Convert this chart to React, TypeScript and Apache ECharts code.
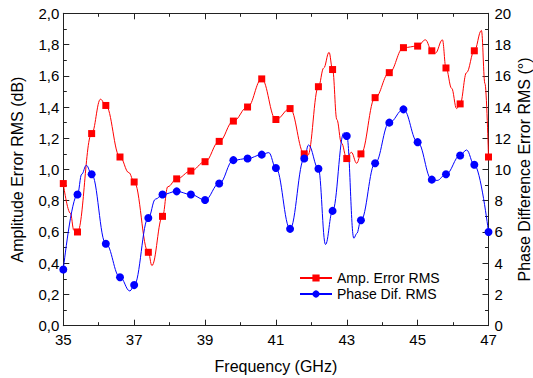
import React, { useEffect, useRef } from "react";
import * as echarts from "echarts";

// Marker frequencies (GHz)
const freqs = [35.0, 35.4, 35.8, 36.2, 36.6, 37.0, 37.4, 37.8, 38.2, 38.6, 39.0, 39.4, 39.8, 40.2, 40.6, 41.0, 41.4, 41.8, 42.2, 42.6, 43.0, 43.4, 43.8, 44.2, 44.6, 45.0, 45.4, 45.8, 46.2, 46.6, 47.0];

// Amplitude error RMS (dB) at marker frequencies
const ampErrorRms = [0.91, 0.60, 1.23, 1.41, 1.08, 0.92, 0.47, 0.70, 0.94, 0.99, 1.05, 1.18, 1.31, 1.40, 1.58, 1.32, 1.39, 1.10, 1.53, 1.64, 1.07, 1.10, 1.46, 1.62, 1.78, 1.79, 1.76, 1.65, 1.42, 1.76, 1.08];

// Phase difference RMS (deg) at marker frequencies
const phaseDifRms = [3.6, 8.4, 9.7, 5.25, 3.1, 2.6, 6.9, 8.4, 8.6, 8.4, 8.05, 9.1, 10.6, 10.7, 10.95, 10.1, 6.2, 10.7, 10.05, 7.35, 12.15, 6.75, 10.4, 13.0, 13.85, 11.75, 9.35, 9.7, 10.9, 10.3, 6.0];

// Extra curve points between markers, no markers drawn
const ampCurveFreqs = [35.2, 35.3, 36.05, 36.85, 37.5, 37.95, 41.9, 42.35, 42.5, 42.72, 42.85, 43.13, 43.28, 45.22, 45.5, 45.7, 45.96, 46.1, 46.38, 46.8, 46.9];
const ampCurveValues = [0.72, 0.61, 1.45, 0.98, 0.385, 0.89, 1.09, 1.65, 1.75, 1.32, 1.17, 1.11, 1.04, 1.83, 1.745, 1.83, 1.52, 1.39, 1.62, 1.89, 1.55];

const phaseCurveFreqs = [35.52, 35.65, 36.88, 37.6, 40.8, 41.92, 42.4, 42.92, 43.2, 43.28, 45.55, 46.38];
const phaseCurveValues = [9.7, 10.27, 2.22, 8.1, 11.08, 11.57, 5.2, 12.36, 5.6, 5.9, 9.3, 11.25];

const xTicks = { min: 35, max: 47, interval: 2 };
const leftTicks = { min: 0, max: 2, interval: 0.2 };
const rightTicks = { min: 0, max: 20, interval: 2 };

function buildData(mf: number[], mv: number[], cf: number[], cv: number[]) {
  const pts: any[] = [];
  mf.forEach((f, i) => pts.push({ value: [f, mv[i]] }));
  cf.forEach((f, i) => pts.push({ value: [f, cv[i]], symbol: "none" }));
  pts.sort((a, b) => a.value[0] - b.value[0]);
  return pts;
}

const FONT = "'Liberation Sans', Arial, sans-serif";
const AXIS_COLOR = "#222";

export default function App() {
  const ref = useRef<HTMLDivElement>(null);
  useEffect(() => {
    if (!ref.current) return;
    const chart = echarts.init(ref.current, undefined, { renderer: "svg" });
    const axisCommon = {
      axisLine: { show: true, onZero: false, lineStyle: { color: AXIS_COLOR, width: 1 } },
      axisTick: { show: true, inside: true, length: 6, lineStyle: { color: AXIS_COLOR } },
      minorTick: { show: true, splitNumber: 2, length: 3.5, lineStyle: { color: AXIS_COLOR } },
      splitLine: { show: false },
      minorSplitLine: { show: false },
    };
    chart.setOption({
      animation: false,
      backgroundColor: "#fff",
      textStyle: { fontFamily: FONT },
      grid: { left: 63.3, right: 44.5, top: 13.3, bottom: 52.3, containLabel: false, outerBoundsMode: "none" },
      legend: {
        orient: "vertical",
        left: 294,
        top: 266,
        itemWidth: 32,
        itemHeight: 9,
        itemGap: 2,
        textStyle: { fontSize: 14, color: "#000", fontFamily: FONT },
        data: ["Amp. Error RMS", "Phase Dif. RMS"],
      },
      xAxis: [
        {
          type: "value",
          ...xTicks,
          position: "bottom",
          ...axisCommon,
          axisLabel: { fontSize: 15, color: "#000", margin: 6, fontFamily: FONT },
          name: "Frequency (GHz)",
          nameLocation: "middle",
          nameGap: 33,
          nameTextStyle: { fontSize: 16, color: "#000", fontFamily: FONT },
        },
        {
          type: "value",
          ...xTicks,
          position: "top",
          ...axisCommon,
          axisLabel: { show: false },
        },
      ],
      yAxis: [
        {
          type: "value",
          ...leftTicks,
          position: "left",
          ...axisCommon,
          axisLabel: {
            fontSize: 15,
            color: "#000",
            margin: 4,
            fontFamily: FONT,
            formatter: (v: number) => v.toFixed(1).replace(".", ","),
          },
          name: "Amplitude Error RMS (dB)",
          nameLocation: "middle",
          nameGap: 38,
          nameTextStyle: { fontSize: 16, color: "#000", fontFamily: FONT },
        },
        {
          type: "value",
          ...rightTicks,
          position: "right",
          ...axisCommon,
          axisLabel: { fontSize: 15, color: "#000", margin: 6, fontFamily: FONT },
          name: "Phase Difference Error RMS (°)",
          nameLocation: "middle",
          nameGap: 28,
          nameMoveOverlap: false,
          nameRotate: 90,
          nameTextStyle: { fontSize: 16, color: "#000", fontFamily: FONT },
        },
      ],
      series: [
        {
          name: "Amp. Error RMS",
          type: "line",
          xAxisIndex: 0,
          yAxisIndex: 0,
          data: buildData(freqs, ampErrorRms, ampCurveFreqs, ampCurveValues),
          smooth: 0.4,
          smoothMonotone: "x",
          symbol: "rect",
          symbolSize: 7,
          showAllSymbol: true,
          color: "#ff0000",
          lineStyle: { color: "#ff0000", width: 1 },
          itemStyle: { color: "#ff0000" },
        },
        {
          name: "Phase Dif. RMS",
          type: "line",
          xAxisIndex: 0,
          yAxisIndex: 1,
          data: buildData(freqs, phaseDifRms, phaseCurveFreqs, phaseCurveValues),
          smooth: 0.4,
          smoothMonotone: "x",
          symbol: "circle",
          symbolSize: 8,
          showAllSymbol: true,
          color: "#0000ff",
          lineStyle: { color: "#0000ff", width: 1 },
          itemStyle: { color: "#0000ff" },
        },
      ],
    });
    return () => chart.dispose();
  }, []);
  return <div ref={ref} style={{ width: 533, height: 378, position: "absolute", left: 0, top: 0 }} />;
}
